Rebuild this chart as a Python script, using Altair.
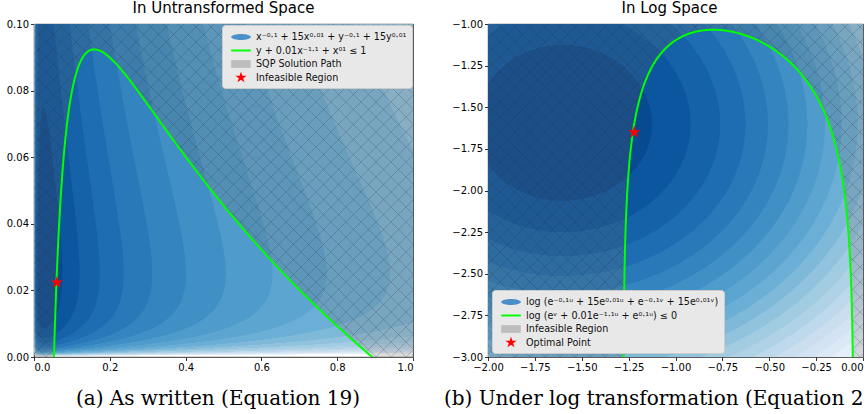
import numpy as np
import pandas as pd
import altair as alt

# ---------------- values ----------------
# coefficients of the plotted problem (from the legend formulas)
obj_pow_neg = -0.1      # x^-0.1
obj_coef = 15.0         # 15 x^0.01
obj_pow_pos = 0.01
con_coef = 0.01         # 0.01 x^-1.1
con_pow_neg = -1.1
con_pow_pos = 0.1       # x^0.1

# filled-contour levels (objective value range that is coloured)
level_lo = 31.8056
level_hi = 31.994
n_bands = 20

left_x_domain = [0.0, 1.0]
left_y_domain = [0.0, 0.10]
left_x_ticks = [0.0, 0.2, 0.4, 0.6, 0.8, 1.0]
left_y_ticks = [0.0, 0.02, 0.04, 0.06, 0.08, 0.10]

right_x_domain = [-2.0, 0.0]
right_y_domain = [-3.0, -1.0]
right_x_ticks = [-2.0, -1.75, -1.5, -1.25, -1.0, -0.75, -0.5, -0.25, 0.0]
right_y_ticks = [-3.0, -2.75, -2.5, -2.25, -2.0, -1.75, -1.5, -1.25, -1.0]

left_star_x = [0.0603]
left_star_y = [0.0224]
right_star_x = [-1.22]
right_star_y = [-1.65]

panel_titles = ["In Untransformed Space", "In Log Space"]
panel_captions = ["(a) As written (Equation 19)",
                  "(b) Under log transformation (Equation 20)"]

left_legend_labels = ["x\u207b\u2070\u00b7\u00b9 + 15x\u2070\u00b7\u2070\u00b9 + y\u207b\u2070\u00b7\u00b9 + 15y\u2070\u00b7\u2070\u00b9",
                      "y + 0.01x\u207b\u00b9\u00b7\u00b9 + x\u2070\u00b9 \u2264 1",
                      "SQP Solution Path",
                      "Infeasible Region"]
right_legend_labels = ["log (e\u207b\u2070\u00b7\u00b9\u1d58 + 15e\u2070\u00b7\u2070\u00b9\u1d58 + e\u207b\u2070\u00b7\u00b9\u1d5b + 15e\u2070\u00b7\u2070\u00b9\u1d5b)",
                       "log (e\u1d5b + 0.01e\u207b\u00b9\u00b7\u00b9\u1d58 + e\u2070\u00b7\u00b9\u1d58) \u2264 0",
                       "Infeasible Region",
                       "Optimal Point"]
legend_colors = ["#4a8fc7", "#00ff00", "#bdbdbd", "#ff0000"]

# Blues colour ramp (ColorBrewer anchors) and the part of it used by the bands
blues_anchors = ["#f7fbff", "#deebf7", "#c6dbef", "#9ecae1", "#6baed6",
                 "#4292c6", "#2171b5", "#08519c", "#08306b"]
ramp_dark, ramp_light = 0.9, 0.05

# ---------------- layout ----------------
W_L, W_R, H = 379, 375, 333
GREEN = "#00ff00"


def blues(t):
    rgb = np.array([[int(h[i:i + 2], 16) for i in (1, 3, 5)] for h in blues_anchors], float)
    pos = np.linspace(0, 1, len(blues_anchors))
    c = [np.interp(t, pos, rgb[:, j]) for j in range(3)]
    return "#" + "".join(f"{int(round(v)):02x}" for v in c)


band_colors = [blues(ramp_dark - (ramp_dark - ramp_light) * k / (n_bands - 1)) for k in range(n_bands)]


def g(t):
    return t ** obj_pow_neg + obj_coef * t ** obj_pow_pos


def objective(x, y):
    return g(x) + g(y)


def con_curve(x):
    with np.errstate(divide="ignore", invalid="ignore", over="ignore"):
        return 1.0 - con_coef * x ** con_pow_neg - x ** con_pow_pos


def bisect(a, b):
    fa = con_curve(a)
    for _ in range(80):
        m = 0.5 * (a + b)
        fm = con_curve(m)
        if np.sign(fm) == np.sign(fa):
            a, fa = m, fm
        else:
            b = m
    return 0.5 * (a + b)


root_l = bisect(0.03, 0.1)
root_r = bisect(0.99, 0.5)
s_half = np.geomspace(1e-8, 0.5, 1800)
s_all = np.unique(np.r_[s_half, 1 - s_half])
curve_x = root_l + (root_r - root_l) * s_all
curve_y = np.maximum(con_curve(curve_x), 0.0)


def band_rects(fun, xdom, ydom, W, lo, hi):
    nx, ny = int(W * 2), int(H)
    dxc = (xdom[1] - xdom[0]) / nx
    dyc = (ydom[1] - ydom[0]) / ny
    xs = xdom[0] + (np.arange(nx) + 0.5) * dxc
    ys = ydom[0] + (np.arange(ny) + 0.5) * dyc
    X, Y = np.meshgrid(xs, ys)
    with np.errstate(all="ignore"):
        F = fun(X, Y)
    K = np.floor((F - lo) / (hi - lo) * n_bands)
    K = np.where(np.isfinite(K), K, n_bands).astype(int)
    K = np.clip(K, 0, None)
    K[K >= n_bands] = -1
    ext_x = 0.6 * (xdom[1] - xdom[0]) / W
    ext_y = 0.8 * dyc
    rows = []
    for i in range(ny):
        b = K[i]
        cut = np.flatnonzero(np.diff(b)) + 1
        starts = np.r_[0, cut]
        ends = np.r_[cut, nx]
        for s, e in zip(starts, ends):
            if b[s] < 0:
                continue
            rows.append((round(xdom[0] + s * dxc, 6), round(xdom[0] + e * dxc + ext_x, 6),
                         round(ydom[0] + i * dyc, 6), round(ydom[0] + (i + 1) * dyc + ext_y, 6),
                         int(b[s])))
    return pd.DataFrame(rows, columns=["x0", "x1", "y0", "y1", "k"])


def hatch(infeasible, xdom, ydom, W, spacing=15.0, step=0.5):
    recs = []
    px_all = np.arange(0, W + step / 2, step)
    for fam in (0, 1):
        for c in np.arange(-H, W + H + spacing, spacing):
            py = (px_all - c) if fam == 0 else (c - px_all)
            m = (py >= 0) & (py <= H)
            if m.sum() < 2:
                continue
            px, pyy = px_all[m], py[m]
            xd = xdom[0] + px / W * (xdom[1] - xdom[0])
            yd = ydom[0] + pyy / H * (ydom[1] - ydom[0])
            bad = infeasible(xd, yd)
            bb = np.r_[False, bad, False].astype(int)
            d = np.diff(bb)
            st = np.flatnonzero(d == 1)
            en = np.flatnonzero(d == -1) - 1
            for s, e in zip(st, en):
                if e > s:
                    recs.append((xd[s], yd[s], xd[e], yd[e]))
    return pd.DataFrame(recs, columns=["hx", "hy", "hx2", "hy2"])


def poly(pts):
    return "M" + "L".join(f"{a:.3f},{b:.3f}" for a, b in pts) + "Z"


def star_path(R):
    pts = []
    for k in range(10):
        a = -np.pi / 2 + k * np.pi / 5
        r = R if k % 2 == 0 else R * 0.382
        pts.append((r * np.cos(a), r * np.sin(a)))
    return poly(pts)


ellipse_path = poly([(1.4 * np.cos(t), 0.42 * np.sin(t)) for t in np.linspace(0, 2 * np.pi, 40)[:-1]])
line_path = poly([(-1.4, -0.14), (1.4, -0.14), (1.4, 0.14), (-1.4, 0.14)])
box_path = poly([(-1.4, -0.55), (1.4, -0.55), (1.4, 0.55), (-1.4, 0.55)])
legend_paths = [ellipse_path, line_path, box_path, star_path(0.85)]

# ---------------- per-panel data ----------------
left_bands = band_rects(objective, left_x_domain, left_y_domain, W_L, level_lo, level_hi)
left_curve = pd.DataFrame({"x": curve_x, "y": curve_y})
ax_l = np.unique(np.r_[np.linspace(0, 1, 600), curve_x])
left_area = pd.DataFrame({"x": ax_l, "top": left_y_domain[1],
                          "bound": np.clip(np.nan_to_num(con_curve(np.maximum(ax_l, 1e-12)), nan=0.0, neginf=0.0), 0, left_y_domain[1])})
left_hatch = hatch(lambda x, y: y > con_curve(np.maximum(x, 1e-12)), left_x_domain, left_y_domain, W_L)


def right_obj(u, v):
    return np.log(objective(10.0 ** u, 10.0 ** v))


right_bands = band_rects(right_obj, right_x_domain, right_y_domain, W_R, np.log(level_lo), np.log(level_hi))
cu = np.log10(curve_x)
with np.errstate(divide="ignore"):
    cv = np.log10(np.maximum(con_curve(curve_x), 1e-12))
keep = cv > -3.4
right_curve = pd.DataFrame({"x": cu[keep], "y": cv[keep]})
ax_r = np.unique(np.r_[np.linspace(-2, 0, 600), cu])
with np.errstate(divide="ignore", invalid="ignore"):
    bv = np.log10(np.maximum(con_curve(10.0 ** ax_r), 1e-12))
right_area = pd.DataFrame({"x": ax_r, "top": right_y_domain[1],
                           "bound": np.clip(bv, right_y_domain[0], right_y_domain[1])})
right_hatch = hatch(lambda u, v: 10.0 ** v > con_curve(10.0 ** u), right_x_domain, right_y_domain, W_R)


def panel(bands, area, hatch_df, curve, sx, sy, xdom, ydom, xticks, yticks, xfmt, yfmt,
          W, yext, title, title_dx, caption_df, cap_mark, leg_labels, leg_orient, leg_offset, last_x_label_right):
    xs = alt.Scale(domain=xdom, nice=False, zero=False)
    ys = alt.Scale(domain=ydom, nice=False, zero=False)
    xa_kwargs = dict(values=xticks, format=xfmt, title=None, grid=False)
    if last_x_label_right:
        xa_kwargs["labelAlign"] = {"condition": {"test": f"datum.value >= {xdom[1]}", "value": "right"},
                                   "value": "center"}
    xa = alt.Axis(**xa_kwargs)
    ya = alt.Axis(values=yticks, format=yfmt, title=None, grid=False, minExtent=yext, maxExtent=yext)

    def X(f):
        return alt.X(f, type="quantitative", scale=xs, axis=xa)

    def Y(f):
        return alt.Y(f, type="quantitative", scale=ys, axis=ya)

    rect = alt.Chart(bands).mark_rect(strokeWidth=0, clip=True).encode(
        x=X("x0"), x2="x1", y=Y("y0"), y2="y1",
        fill=alt.Fill("k:O", legend=None,
                      scale=alt.Scale(domain=list(range(n_bands)), range=band_colors)))
    over = alt.Chart(area).mark_area(color="#646464", opacity=0.22, clip=True).encode(
        x=X("x"), y=Y("top"), y2="bound")
    hat = alt.Chart(hatch_df).mark_rule(color="#1c2a38", opacity=0.3, strokeWidth=0.7, clip=True).encode(
        x=X("hx"), y=Y("hy"), x2="hx2", y2="hy2")
    line = alt.Chart(curve).mark_line(color=GREEN, strokeWidth=2, clip=True).encode(
        x=X("x"), y=Y("y"))
    star = alt.Chart(pd.DataFrame({"x": sx, "y": sy})).mark_point(
        shape=star_path(1.0), size=170, filled=True, color="#ff0000", opacity=1, strokeWidth=0).encode(
        x=X("x"), y=Y("y"))
    leg = alt.Legend(title=None, orient=leg_orient, offset=leg_offset, labelFont="DejaVu Sans",
                     labelFontSize=9.6, labelColor="#111111", fillColor="#e8e8e8", strokeColor="#cccccc",
                     cornerRadius=3, padding=5, rowPadding=1.5, symbolSize=196, symbolStrokeWidth=0,
                     symbolOffset=7, labelOffset=8, labelLimit=400)
    dummy = alt.Chart(pd.DataFrame({"item": leg_labels, "x": [xdom[0] - 10] * 4, "y": [ydom[0] - 10] * 4})
                      ).mark_point(filled=True, clip=True, opacity=1).encode(
        x=X("x"), y=Y("y"),
        color=alt.Color("item:N", scale=alt.Scale(domain=leg_labels, range=legend_colors), legend=leg, sort=leg_labels),
        shape=alt.Shape("item:N", scale=alt.Scale(domain=leg_labels, range=legend_paths), legend=leg, sort=leg_labels))
    cap = alt.Chart(caption_df).mark_text(**cap_mark).encode(text="t:N")
    return alt.layer(rect, over, hat, line, star, dummy, cap).properties(
        width=W, height=H,
        title=alt.TitleParams(title, fontSize=15, font="DejaVu Sans", fontWeight="normal", color="#000000",
                              frame="group", anchor="middle", offset=3, dx=title_dx))


cap_common = dict(font="DejaVu Serif", fontSize=20, color="#000000", baseline="alphabetic")
left = panel(left_bands, left_area, left_hatch, left_curve, left_star_x, left_star_y,
             left_x_domain, left_y_domain, left_x_ticks, left_y_ticks, ".1f", ".2f",
             W_L, 33, panel_titles[0], 0, pd.DataFrame({"t": [panel_captions[0]]}),
             dict(cap_common, align="center", x=184, y=H + 48),
             left_legend_labels, "top-right", 1, False)
right = panel(right_bands, right_area, right_hatch, right_curve, right_star_x, right_star_y,
              right_x_domain, right_y_domain, right_x_ticks, right_y_ticks, ".2f", ".2f",
              W_R, 40, panel_titles[1], -6, pd.DataFrame({"t": [panel_captions[1]]}),
              dict(cap_common, align="left", x=-44, y=H + 48, limit=423, ellipsis="\u200b"),
              right_legend_labels, "bottom-left", 4, True)

chart = alt.hconcat(left, right, spacing=75, bounds="flush").resolve_scale(
    color="independent", shape="independent", fill="independent").resolve_legend(
    color="independent", shape="independent").properties(
    padding={"left": 0, "top": 0, "right": 0, "bottom": 0}).configure_view(
    stroke="#000000", strokeWidth=0.8).configure_axis(
    labelFont="DejaVu Sans", labelFontSize=10, labelColor="#000000", tickColor="#000000",
    tickSize=3.5, tickWidth=0.8, labelPadding=2, domain=False)

chart.save("out.html", embed_options={"renderer": "svg", "actions": False})
